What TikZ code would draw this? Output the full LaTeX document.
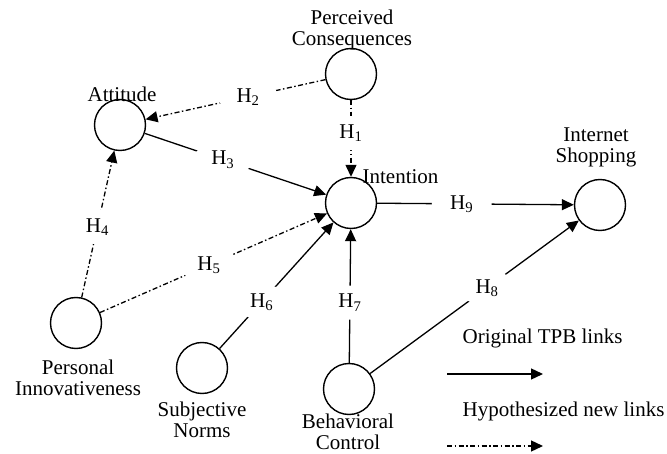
\documentclass[tikz,border=0pt]{standalone}
\usepackage{fontspec}
\setmainfont{Liberation Serif}
\usetikzlibrary{arrows.meta,shapes.geometric}

\begin{document}
\begin{tikzpicture}[
    x=1pt,y=-1pt,
    font=\fontsize{21}{21}\selectfont,
    line width=1.3pt,
    construct/.style={draw,circle,minimum size=51pt,inner sep=0pt,line width=1.4pt},
    conlabel/.style={align=center,inner sep=0pt},
    tpb/.style={-{Triangle[length=12pt,width=11pt]}},
    newlink/.style={tpb,dash pattern=on 5pt off 2.5pt on 1.5pt off 2.5pt},
    hyp/.style={ellipse,fill=white,minimum width=60pt,minimum height=34pt,inner sep=0pt}
]
% Canvas in pixel units of the source figure (y grows downward).
\path[use as bounding box] (0,0) rectangle (667,454);

\node[construct] (pc)   at (351,74)  {};
\node[construct] (att)  at (120,125) {};
\node[construct] (int)  at (351,203) {};
\node[construct] (shop) at (600,205) {};
\node[construct] (pi)   at (76,323)  {};
\node[construct] (sn)   at (202,368) {};
\node[construct] (bc)   at (349,389) {};

\node[conlabel] (pcl)   at (352,30)  {Perceived\\Consequences};
\node[conlabel] (attl)  at (122,94)  {Attitude};
\node[conlabel,anchor=west] (intl) at (362,177) {Intention};
\node[conlabel] (shopl) at (596,147) {Internet\\Shopping};
\node[conlabel] (pil)   at (78,378)  {Personal\\Innovativeness};
\node[conlabel] (snl)   at (202,420) {Subjective\\Norms};
\node[conlabel] (bcl)   at (348,432) {Behavioral\\Control};

% Hypotheses H1--H9; the white ellipse opens a gap in the line.
\draw[newlink] (pc)  -- node[hyp,pos=0.43] {H\textsubscript{1}} (int);
\draw[newlink] (pc)  -- node[hyp,pos=0.43] {H\textsubscript{2}} (att);
\draw[tpb]     (att) -- node[hyp,pos=0.43] {H\textsubscript{3}} (int);
\draw[newlink] (pi)  -- node[hyp,pos=0.48] {H\textsubscript{4}} (att);
\draw[newlink] (pi)  -- node[hyp,pos=0.48] {H\textsubscript{5}} (int);
\draw[tpb]     (sn)  -- node[hyp,pos=0.37] {H\textsubscript{6}} (int);
\draw[tpb]     (bc)  -- node[hyp,pos=0.45] {H\textsubscript{7}} (int);
\draw[tpb]     (bc)  -- node[hyp,pos=0.56] {H\textsubscript{8}} (shop);
\draw[tpb]     (int) -- node[hyp,pos=0.43] {H\textsubscript{9}} (shop);

% Legend
\node[conlabel,anchor=west] (origl) at (462,338) {Original TPB links};
\node[conlabel,anchor=west] (hypl)  at (462,411) {Hypothesized new links};
\coordinate (s0) at (447,374);
\coordinate (s1) at (543,374);
\coordinate (d0) at (447,446);
\coordinate (d1) at (543,446);
\draw[tpb] (s0) -- (s1);
\draw[newlink] (d0) -- (d1);
\end{tikzpicture}
\end{document}
